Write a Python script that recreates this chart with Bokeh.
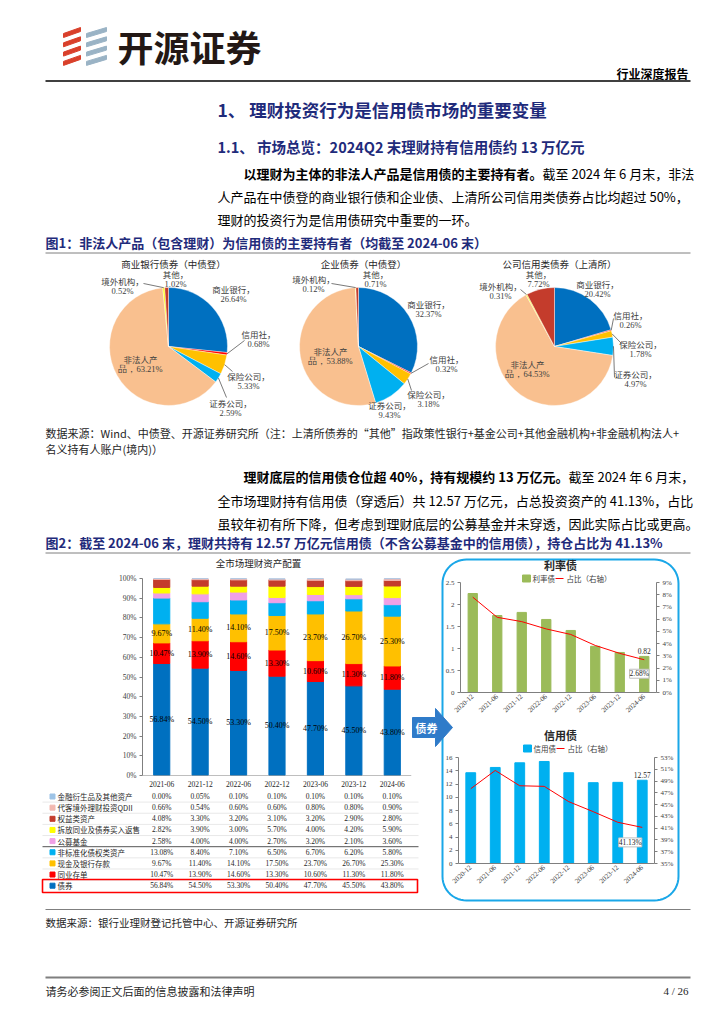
import numpy as np
from bokeh.plotting import figure
from bokeh.models import Range1d, LinearAxis, FixedTicker, PrintfTickFormatter, Label, Span, ColumnDataSource
from bokeh.layouts import column
from bokeh.embed import file_html
from bokeh.resources import INLINE
from bokeh.core.properties import value

CJK = "Noto Sans CJK SC"
SERIF = "Liberation Serif"
NAVY = "#1F2B7B"

# ------------------------------------------------------------------ data
holders = ["商业银行", "信用社", "保险公司", "证券公司", "非法人产品", "境外机构", "其他"]
holder_colors = ["#0070C0", "#FF0000", "#FFC000", "#00B0F0", "#F9C08F", "#FFFF00", "#C43C2C"]
pie_titles = ["商业银行债券（中债登）", "企业债券（中债登）", "公司信用类债券（上清所）"]
bank_bond_share = [26.64, 0.68, 5.33, 2.59, 63.21, 0.52, 1.02]
corp_bond_share = [32.37, 0.32, 3.18, 9.43, 53.88, 0.12, 0.71]
sh_credit_share = [20.42, 0.26, 1.78, 4.97, 64.53, 0.31, 7.72]

periods = ["2021-06", "2021-12", "2022-06", "2022-12", "2023-06", "2023-12", "2024-06"]
asset_names = ["债券", "同业存单", "现金及银行存款", "非标准化债权类资产", "公募基金",
               "拆放同业及债券买入返售", "权益类资产", "代客境外理财投资QDII", "金融衍生品及其他资产"]
asset_colors = ["#0070C0", "#FF0000", "#FFC000", "#00B0F0", "#F0A0E6",
                "#FFFF00", "#C43C2C", "#F2B8B0", "#9DC3E6"]
bond = [56.84, 54.50, 53.30, 50.40, 47.70, 45.50, 43.80]
ncd = [10.47, 13.90, 14.60, 13.30, 10.60, 11.30, 11.80]
cash = [9.67, 11.40, 14.10, 17.50, 23.70, 26.70, 25.30]
nonstd = [13.08, 8.40, 7.10, 6.50, 6.70, 6.20, 5.80]
mutual_fund = [2.58, 4.00, 4.00, 2.70, 3.20, 2.10, 3.60]
interbank_repo = [2.82, 3.90, 3.00, 5.70, 4.00, 4.20, 5.90]
equity = [4.08, 3.30, 3.20, 3.10, 3.20, 2.90, 2.80]
qdii = [0.66, 0.54, 0.60, 0.60, 0.80, 0.80, 0.90]
derivatives = [0.00, 0.05, 0.10, 0.10, 0.10, 0.10, 0.10]
asset_values = [bond, ncd, cash, nonstd, mutual_fund, interbank_repo, equity, qdii, derivatives]
labeled_assets = ["债券", "同业存单", "现金及银行存款"]

dates = ["2020-12", "2021-06", "2021-12", "2022-06", "2022-12", "2023-06", "2023-12", "2024-06"]
rate_bond_amt = [2.25, 1.75, 1.82, 1.66, 1.41, 1.05, 0.91, 0.82]
rate_bond_pct = [7.80, 6.15, 5.80, 5.20, 4.75, 3.85, 3.20, 2.68]
credit_bond_amt = [13.70, 14.50, 15.20, 15.40, 13.70, 12.20, 12.25, 12.57]
credit_bond_pct = [47.70, 50.80, 48.20, 48.10, 45.50, 43.80, 42.00, 41.13]

# ------------------------------------------------------------------ layout constants
pie_centers = [(168, 346), (358, 346), (554, 346)]
pie_radius = 59
pie_label_pos = [
    [(233, 288), (258, 333), (248, 375), (230, 402), (140, 358), (122, 280), (175, 273)],
    [(428, 303), (446, 358), (428, 393), (389, 404), (330, 350), (313, 278), (375, 273)],
    [(597, 283), (630, 314), (640, 343), (635, 373), (527, 363), (500, 285), (538, 273)],
]
pie_leaders = [
    {1: (244, 340), 2: (232, 371), 3: (226, 397), 5: (143, 283)},
    {1: (428, 363), 2: (411, 390), 5: (331, 283)},
    {1: (613, 318), 2: (621, 343), 3: (614, 377), 5: (520, 289)},
]
SIDE = 40        # horizontal border reserved on each chart figure
BG_X0 = 40       # first page pixel covered by the background frame


def absolute(fig, left, top):
    # left/top are page pixels; the root container sits at page (8, 8)
    fig.styles = {"position": "absolute", "left": f"{left - 8}px", "top": f"{top - 8}px"}


# ------------------------------------------------------------------ background page
bg = figure(frame_width=708, frame_height=1008, x_range=Range1d(BG_X0, BG_X0 + 708), y_range=Range1d(1016, 8),
            output_backend="svg", toolbar_location=None,
            min_border_left=0, min_border_right=0, min_border_top=0, min_border_bottom=0,
            x_axis_location=None, y_axis_location=None)
bg.xgrid.visible = False
bg.ygrid.visible = False
bg.outline_line_color = None
bg.background_fill_color = "white"
bg.border_fill_color = "white"
absolute(bg, 0, 8)


def txt(x, y, s, size, color="#000000", bold=False, align="left", font=CJK, baseline="middle"):
    bg.text(x=[x], y=[y], text=[s], text_font=value(font), text_font_size=f"{size}px",
            text_color=color, text_align=align, text_baseline=baseline,
            text_font_style="bold" if bold else "normal")


def hline(x0, x1, y, color="#7F7F7F", w=1.0):
    bg.line(x=[x0, x1], y=[y, y], line_color=color, line_width=w)


# header logo
for k in range(4):
    y0 = 27 + k * 9.3
    bg.patch(x=[63, 80, 80, 63], y=[y0 + 6, y0, y0 + 4, y0 + 10], color="#D9402B")
    bg.patch(x=[86, 106, 106, 86], y=[y0 + 6, y0, y0 + 4, y0 + 10], color="#9AB3C5")
txt(117, 45, "开源证券", 36, color="#231815", bold=True)
txt(688, 73, "行业深度报告", 12, bold=True, align="right")
hline(45, 690, 80.5, color="#000000", w=1.5)

# headings and paragraphs
txt(217, 109, "1、 理财投资行为是信用债市场的重要变量", 17.5, color=NAVY, bold=True)
txt(217, 146, "1.1、 市场总览：2024Q2 末理财持有信用债约 13 万亿元", 14.5, color=NAVY, bold=True)
txt(243, 173, "以理财为主体的非法人产品是信用债的主要持有者。", 13, bold=True)
txt(542, 173, "截至 2024 年 6 月末，非法", 13)
txt(217, 196, "人产品在中债登的商业银行债和企业债、上清所公司信用类债券占比均超过 50%，", 13)
txt(217, 219, "理财的投资行为是信用债研究中重要的一环。", 13)

txt(45, 242, "图1：非法人产品（包含理财）为信用债的主要持有者（均截至 2024-06 末）", 13, color=NAVY, bold=True)
hline(45, 690, 252.5)

# pies
pie_sets = [bank_bond_share, corp_bond_share, sh_credit_share]
for pi, shares in enumerate(pie_sets):
    cx, cy = pie_centers[pi]
    arr = np.array(shares, dtype=float)
    frac = arr / arr.sum()
    end = np.cumsum(frac)
    start = end - frac
    bg.wedge(x=[cx] * len(arr), y=[cy] * len(arr), radius=pie_radius,
             start_angle=list(np.pi / 2 - 2 * np.pi * end),
             end_angle=list(np.pi / 2 - 2 * np.pi * start),
             fill_color=holder_colors, line_color="white", line_width=0.4)
    txt(cx + 5, 263, pie_titles[pi], 9.5, color="#262626", align="center")
    mid = np.pi / 2 - 2 * np.pi * (start + end) / 2
    for i, name in enumerate(holders):
        lx, ly = pie_label_pos[pi][i]
        if name == "非法人产品":
            l1, l2 = "非法人产", f"品，{shares[i]:.2f}%"
        else:
            l1, l2 = f"{name}，", f"{shares[i]:.2f}%"
        txt(lx, ly, l1, 8.5, color="#404040", align="center")
        txt(lx, ly + 10.5, l2, 8.5, color="#404040", align="center", font=SERIF)
        if i in pie_leaders[pi]:
            ex = cx + pie_radius * np.cos(mid[i])
            ey = cy - pie_radius * np.sin(mid[i])
            tx, ty = pie_leaders[pi][i]
            bg.line(x=[ex, tx], y=[ey, ty], line_color="#404040", line_width=0.7)

txt(45, 432, "数据来源：Wind、中债登、开源证券研究所（注：上清所债券的“其他”指政策性银行+基金公司+其他金融机构+非金融机构法人+", 11, color="#262626")
txt(45, 448, "名义持有人账户(境内)）", 11, color="#262626")

txt(243, 476, "理财底层的信用债仓位超 40%，持有规模约 13 万亿元。", 13, bold=True)
txt(568, 476, "截至 2024 年 6 月末，", 13)
txt(217, 500, "全市场理财持有信用债（穿透后）共 12.57 万亿元，占总投资资产的 41.13%，占比", 13)
txt(217, 523, "虽较年初有所下降，但考虑到理财底层的公募基金并未穿透，因此实际占比或更高。", 13)

txt(45, 542, "图2：截至 2024-06 末，理财共持有 12.57 万亿元信用债（不含公募基金中的信用债），持仓占比为 41.13%", 13, color=NAVY, bold=True)
hline(45, 690, 552.5)

# ------------------------------------------------------------------ stacked bar chart
BAR_L, BAR_T, BAR_W, BAR_H = 142, 578, 269, 197


def chart_fig(frame_l, frame_t, frame_w, frame_h, bt, bb, **kw):
    p = figure(frame_width=frame_w, frame_height=frame_h,
               min_border_left=SIDE, min_border_right=SIDE, min_border_top=bt, min_border_bottom=bb,
               output_backend="svg", toolbar_location=None, **kw)
    absolute(p, frame_l - SIDE, frame_t - bt)
    p.background_fill_color = None
    p.border_fill_color = None
    p.outline_line_color = None
    p.xgrid.visible = False
    p.ygrid.visible = False
    return p


def style_axis(ax, size="7.5px"):
    ax.axis_line_color = "#7F7F7F"
    ax.major_tick_line_color = "#7F7F7F"
    ax.minor_tick_line_color = None
    ax.major_tick_out = 3
    ax.major_tick_in = 0
    ax.major_label_text_font = SERIF
    ax.major_label_text_font_size = size
    ax.major_label_text_color = "#404040"
    ax.major_label_standoff = 3


txt(258, 562, "全市场理财资产配置", 9.5, color="#262626", align="center")
fig_bar = chart_fig(BAR_L, BAR_T, BAR_W, BAR_H, 5, 5,
                    x_range=Range1d(-0.5, len(periods) - 0.5), y_range=Range1d(0, 100),
                    x_axis_location=None)
keys = [f"s{i}" for i in range(len(asset_names))]
src_data = {"x": list(range(len(periods)))}
for k_, vals in zip(keys, asset_values):
    src_data[k_] = vals
fig_bar.vbar_stack(keys, x="x", width=0.42, color=asset_colors, source=ColumnDataSource(src_data))
base = np.zeros(len(periods))
for name, vals in zip(asset_names, asset_values):
    v = np.array(vals)
    if name in labeled_assets:
        fig_bar.text(x=list(range(len(periods))), y=list(base + v / 2), text=[f"{a:.2f}%" for a in vals],
                     text_font=value(SERIF), text_font_size="8px", text_color="#000000",
                     text_align="center", text_baseline="middle")
    base = base + v
fig_bar.yaxis.ticker = FixedTicker(ticks=list(range(0, 101, 10)))
fig_bar.yaxis.formatter = PrintfTickFormatter(format="%d%%")
style_axis(fig_bar.yaxis[0])
fig_bar.add_layout(Span(location=0, dimension="width", line_color="#7F7F7F", line_width=1))

# table under the bars
col_x = [BAR_L + (i + 0.5) * BAR_W / len(periods) for i in range(len(periods))]
bg.text(x=col_x, y=[783] * len(periods), text=periods, text_font=value(SERIF), text_font_size="7.5px",
        text_color="#262626", text_align="center", text_baseline="middle")
row_names = asset_names[::-1]
row_vals = asset_values[::-1]
row_cols = asset_colors[::-1]
for k in range(len(row_names)):
    y = 796 + 11.15 * k
    bg.rect(x=[52], y=[y], width=5, height=5, color=row_cols[k])
    txt(57, y, row_names[k], 7.5, color="#262626")
    bg.text(x=col_x, y=[y] * len(periods), text=[f"{a:.2f}%" for a in row_vals[k]],
            text_font=value(SERIF), text_font_size="7.5px", text_color="#262626",
            text_align="center", text_baseline="middle")
    if k < len(row_names) - 1:
        hline(42, 418, y + 5.6, color="#555555" if k == 4 else "#D9D9D9", w=1 if k == 4 else 0.6)
bg.rect(x=[229.5], y=[885.5], width=375, height=13, fill_color=None, line_color="#FF0000", line_width=1.6)

# ------------------------------------------------------------------ right panel decoration


def rounded(x0, y0, x1, y1, r, n=14):
    xs, ys = [], []
    for cx_, cy_, a0, a1 in [(x1 - r, y0 + r, -90, 0), (x1 - r, y1 - r, 0, 90),
                             (x0 + r, y1 - r, 90, 180), (x0 + r, y0 + r, 180, 270)]:
        t = np.radians(np.linspace(a0, a1, n))
        xs += list(cx_ + r * np.cos(t))
        ys += list(cy_ + r * np.sin(t))
    return xs + xs[:1], ys + ys[:1]


rx, ry = rounded(442, 559, 678, 900, 24)
bg.line(x=rx, y=ry, line_color="#1AA7E8", line_width=2)
bg.patch(x=[412, 435, 435, 452, 435, 435, 412], y=[717, 717, 708, 727, 746, 737, 737], color="#2F7BC9")
txt(426, 727, "债券", 11, color="white", bold=True, align="center")

# legends / titles for right charts
txt(560, 564, "利率债", 11, color="#262626", bold=True, align="center")
bg.rect(x=[526], y=[578], width=8, height=7, color="#9BBB59")
txt(532, 578, "利率债", 7.5, color="#404040")
hline(555, 563, 578, color="#FF0000", w=1)
txt(566, 578, "占比（右轴）", 7.5, color="#404040")

txt(560, 734, "信用债", 11, color="#262626", bold=True, align="center")
bg.rect(x=[527], y=[748], width=8, height=7, color="#00B0F0")
txt(533, 748, "信用债", 7.5, color="#404040")
hline(556, 564, 748, color="#FF0000", w=1)
txt(567, 748, "占比（右轴）", 7.5, color="#404040")


def twin_chart(frame_l, frame_t, frame_h, yl_end, yl_ticks, yl_fmt, yr, yr_ticks,
               amt, pct, color, bw, amt_fmt, lab_dx, lab_dy):
    idx = list(range(len(dates)))
    p = chart_fig(frame_l, frame_t, 196, frame_h, 6, 38,
                  x_range=Range1d(-0.5, len(dates) - 0.5), y_range=Range1d(0, yl_end))
    p.extra_y_ranges = {"pct": Range1d(*yr)}
    p.vbar(x=idx, top=amt, width=bw, color=color)
    p.line(x=idx, y=pct, y_range_name="pct", line_color="#FF0000", line_width=1)
    ax_r = LinearAxis(y_range_name="pct", ticker=FixedTicker(ticks=yr_ticks),
                      formatter=PrintfTickFormatter(format="%d%%"))
    p.add_layout(ax_r, "right")
    p.yaxis[0].ticker = FixedTicker(ticks=yl_ticks)
    p.yaxis[0].formatter = PrintfTickFormatter(format=yl_fmt)
    for ax in p.yaxis:
        style_axis(ax, "7px")
    p.xaxis.ticker = FixedTicker(ticks=idx)
    p.xaxis.major_label_overrides = {i: d for i, d in enumerate(dates)}
    p.xaxis.major_label_orientation = 0.75
    style_axis(p.xaxis[0], "7px")
    p.xaxis.major_tick_out = 0
    p.text(x=[idx[-1]], y=[amt[-1]], text=[amt_fmt.format(amt[-1])], text_font=value(SERIF),
           text_font_size="7.5px", text_color="#262626", text_align="center",
           text_baseline="bottom", y_offset=-2)
    p.add_layout(Label(x=idx[-1], y=pct[-1], y_range_name="pct", text=f"{pct[-1]:.2f}%",
                       x_offset=lab_dx, y_offset=lab_dy, text_align="center", text_baseline="middle",
                       text_font=SERIF, text_font_size="7.5px", text_color="#262626",
                       background_fill_color="white", border_line_color="#BFBFBF"))
    return p


fig_rate = twin_chart(460, 582, 110, 2.5, [0, 0.5, 1, 1.5, 2, 2.5], "%g", (0, 9), list(range(0, 10)),
                      rate_bond_amt, rate_bond_pct, "#9BBB59", 0.38, "{:.2f}", -5, -14)
fig_credit = twin_chart(458, 757, 106, 16, list(range(0, 17, 2)), "%d", (35, 53), list(range(35, 54, 2)),
                        credit_bond_amt, credit_bond_pct, "#00B0F0", 0.40, "{:.2f}", -12, -15)

# ------------------------------------------------------------------ footer
hline(45, 690, 909)
txt(45, 922, "数据来源：银行业理财登记托管中心、开源证券研究所", 10.5, color="#262626")
hline(45, 690, 977, color="#7F7F7F", w=2)
txt(45, 990, "请务必参阅正文后面的信息披露和法律声明", 11, color="#262626")
txt(688, 990, "4 / 26", 11, color="#262626", align="right", font=SERIF)

root = column(bg, fig_bar, fig_rate, fig_credit, width=708, height=1008)
root.styles = {"position": "absolute", "left": "8px", "top": "8px", "width": "708px", "height": "1008px",
               "overflow": "hidden"}

open("out.html", "w").write(file_html(root, INLINE))
